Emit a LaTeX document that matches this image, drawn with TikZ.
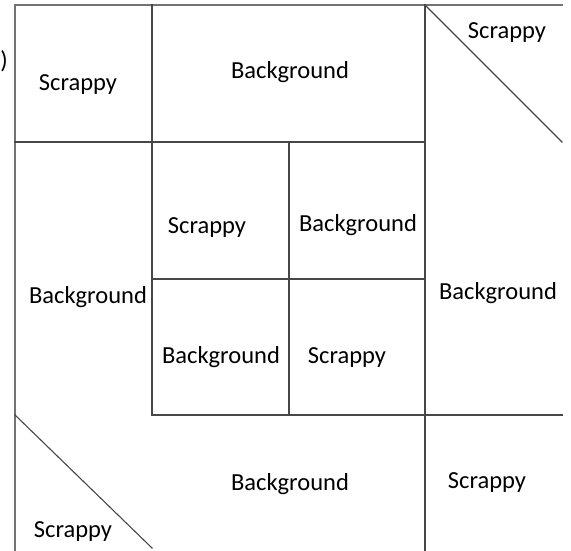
\documentclass[tikz,border=0pt]{standalone}
\usepackage{fontspec}
\setmainfont{Carlito}
\tikzset{
  qLine/.style={line width=1.1pt,draw=black!72,line cap=rect},
  qEdge/.style={qLine,draw=black!55},
  qLabel/.style={font=\fontsize{24.5}{28}\selectfont,inner sep=0pt,anchor=center},
}

\begin{document}
\begin{tikzpicture}[x=1pt,y=1pt]
\useasboundingbox (0,0) rectangle (571,550);

\coordinate (tl) at (15,545);
\coordinate (tr) at (562,545);
\coordinate (bl) at (15,0);

\draw[qEdge] (bl) -- (tl) -- (tr);
\draw[qLine] (152,545) -- (152,135);
\draw[qLine] (425,545) -- (425,0);
\draw[qLine] (15,408) -- (425,408);
\draw[qLine] (152,135) -- (562,135);
\draw[qLine] (289,408) -- (289,135);
\draw[qLine] (152,271) -- (425,271);
\draw[qLine] (425,545) -- (562,408);
\draw[qLine] (15,135) -- (152,2);

\node[qLabel] (par) at (4,489)  {)};
\node[qLabel] (s1)  at (78,465)  {Scrappy};
\node[qLabel] (b1)  at (290,478) {Background};
\node[qLabel] (s2)  at (507,517) {Scrappy};
\node[qLabel] (b2)  at (88,253)  {Background};
\node[qLabel] (s3)  at (207,322) {Scrappy};
\node[qLabel] (b3)  at (358,325) {Background};
\node[qLabel] (b4)  at (221,193) {Background};
\node[qLabel] (s4)  at (347,192) {Scrappy};
\node[qLabel] (b5)  at (498,257) {Background};
\node[qLabel] (b6)  at (290,66)  {Background};
\node[qLabel] (s5)  at (487,67)  {Scrappy};
\node[qLabel] (s6)  at (73,18)   {Scrappy};
\end{tikzpicture}
\end{document}
